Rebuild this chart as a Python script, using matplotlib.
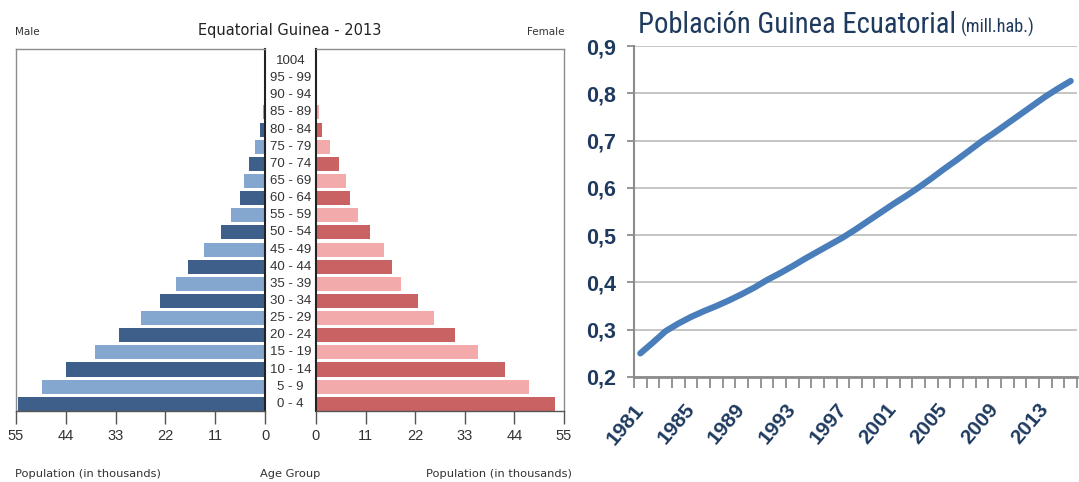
import matplotlib.pyplot as plt
import matplotlib.transforms as mtransforms
from matplotlib import font_manager
import numpy as np

# age pyramid data (thousands)
age_groups = ['0 - 4', '5 - 9', '10 - 14', '15 - 19', '20 - 24', '25 - 29', '30 - 34',
              '35 - 39', '40 - 44', '45 - 49', '50 - 54', '55 - 59', '60 - 64', '65 - 69',
              '70 - 74', '75 - 79', '80 - 84', '85 - 89', '90 - 94', '95 - 99', '1004']
male = [54.6, 49.3, 43.9, 37.6, 32.3, 27.5, 23.2, 19.6, 16.9, 13.4, 9.7,
        7.4, 5.6, 4.6, 3.5, 2.3, 1.2, 0.5, 0.3, 0.2, 0.1]
female = [53.0, 47.3, 41.9, 36.0, 30.9, 26.2, 22.7, 18.9, 16.8, 15.0, 11.9,
          9.4, 7.6, 6.6, 5.0, 3.0, 1.3, 0.65, 0.3, 0.15, 0.05]
pop_ticks = [0, 11, 22, 33, 44, 55]

# population series (millions)
years = list(range(1981, 2016))
population = [0.250, 0.273, 0.297, 0.313, 0.327, 0.339, 0.350, 0.362, 0.375, 0.389,
              0.405, 0.419, 0.434, 0.450, 0.465, 0.480, 0.495, 0.512, 0.530, 0.548,
              0.566, 0.583, 0.601, 0.620, 0.640, 0.659, 0.679, 0.699, 0.717, 0.736,
              0.755, 0.774, 0.793, 0.810, 0.826]
y_ticks = [0.2, 0.3, 0.4, 0.5, 0.6, 0.7, 0.8, 0.9]

W, H = 1079, 482
fig = plt.figure(figsize=(W / 100, H / 100), dpi=100)

def box(x0, y0, x1, y1):
    return [x0 / W, 1 - y1 / H, (x1 - x0) / W, (y1 - y0) / H]

installed = {f.name for f in font_manager.fontManager.ttflist}
narrow = [f for f in ['Liberation Sans Narrow', 'DejaVu Sans Condensed', 'Roboto Condensed']
          if f in installed] + ['Roboto', 'DejaVu Sans']
small = ['Liberation Sans', 'DejaVu Sans']
grey_txt = '#333333'

ax_m = fig.add_axes(box(16, 49, 265, 411))
ax_f = fig.add_axes(box(316, 49, 564, 411))
pos = np.arange(len(age_groups))
m_cols = ['#3f5f8b' if i % 2 == 0 else '#84a7d0' for i in pos]
f_cols = ['#c96262' if i % 2 == 0 else '#f2aaaa' for i in pos]
ax_m.barh(pos, male, height=0.82, color=m_cols)
ax_f.barh(pos, female, height=0.82, color=f_cols)

for ax in (ax_m, ax_f):
    ax.set_ylim(-0.42, 20.7)
    ax.set_yticks([])
    ax.set_xticks(pop_ticks)
    ax.set_xticklabels([str(t) for t in pop_ticks], family=small, fontsize=10.5, color=grey_txt)
    ax.tick_params(axis='x', direction='out', length=9, width=1, color='#555555', pad=4)
    for s in ax.spines.values():
        s.set_color('#8c8c8c')
        s.set_linewidth(1)
ax_m.set_xlim(55, 0)
ax_f.set_xlim(0, 55)
ax_m.spines['right'].set_color('#222222')
ax_m.spines['right'].set_linewidth(1.5)
ax_f.spines['left'].set_color('#222222')
ax_f.spines['left'].set_linewidth(1.5)
ax_m.spines['bottom'].set_color('#555555')
ax_f.spines['bottom'].set_color('#555555')

trans = mtransforms.blended_transform_factory(fig.transFigure, ax_f.transData)
for i, lab in enumerate(age_groups):
    fig.text(290.5 / W, i, lab, transform=trans, ha='center', va='center',
             family=small, fontsize=9.5, color=grey_txt)

fig.text(290 / W, 1 - 30 / H, 'Equatorial Guinea - 2013', ha='center', va='center',
         fontsize=10.5, color='#222222')
fig.text(15 / W, 1 - 32 / H, 'Male', ha='left', va='center', fontsize=7.5, color=grey_txt)
fig.text(565 / W, 1 - 32 / H, 'Female', ha='right', va='center', fontsize=7.5, color=grey_txt)
fig.text(15 / W, 1 - 474 / H, 'Population (in thousands)', ha='left', va='center',
         fontsize=8.2, color=grey_txt)
fig.text(290 / W, 1 - 474 / H, 'Age Group', ha='center', va='center',
         fontsize=8.2, color=grey_txt)
fig.text(572 / W, 1 - 474 / H, 'Population (in thousands)', ha='right', va='center',
         fontsize=8.2, color=grey_txt)

# line chart
navy = '#1f3a5f'
ax = fig.add_axes(box(634, 46, 1077, 377))
idx = np.arange(len(years))
ax.plot(idx, population, color='#4a7ebb', lw=4.5, solid_capstyle='round', zorder=3)
ax.set_xlim(-0.5, len(years) - 0.5)
ax.set_ylim(0.2, 0.9)
ax.set_yticks(y_ticks)
ax.set_yticklabels([f'{v:.1f}'.replace('.', ',') for v in y_ticks],
                   fontweight='bold', fontsize=15.5, color=navy, family=small)
ax.grid(axis='y', color='#c0c0c0', lw=1.3)
ax.set_axisbelow(True)
ax.set_xticks(idx[::4])
ax.set_xticklabels([str(y) for y in years[::4]], rotation=50, ha='right', va='center',
                   rotation_mode='anchor', fontweight='bold', fontsize=15,
                   color=navy, family=small)
ax.set_xticks(np.arange(-0.5, len(years)), minor=True)
ax.tick_params(axis='x', which='major', length=0, pad=21)
ax.tick_params(axis='x', which='minor', length=8, width=1.3, color='#8c8c8c', direction='out')
ax.tick_params(axis='y', length=5, width=1.3, color='#8c8c8c', pad=8)
for s in ('top', 'right'):
    ax.spines[s].set_visible(False)
ax.spines['left'].set_color('#8c8c8c')
ax.spines['left'].set_linewidth(1.5)
ax.spines['bottom'].set_color('#8c8c8c')
ax.spines['bottom'].set_linewidth(2)

# title sized to the reference width
t1 = fig.text(638 / W, 1 - 33 / H, 'Población Guinea Ecuatorial', ha='left', va='baseline',
              family=narrow, fontsize=20, color=navy)
t2 = fig.text(961 / W, 1 - 33 / H, '(mill.hab.)', ha='left', va='baseline',
              family=narrow, fontsize=12, color=navy)
fig.canvas.draw()
w1 = t1.get_window_extent().width
t1.set_fontsize(min(26, 20 * 317 / w1))
w2 = t2.get_window_extent().width
t2.set_fontsize(min(16, 12 * 74 / w2))
fig.canvas.draw()
bb = t1.get_window_extent()
t2.set_x((bb.x1 + 5) / W)

fig.savefig('out.png', dpi=100)
